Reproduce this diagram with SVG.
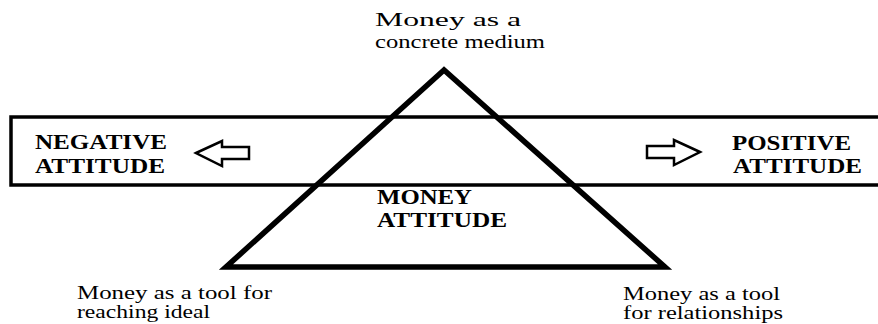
<svg xmlns="http://www.w3.org/2000/svg" width="878" height="324" viewBox="0 0 878 324">
<style>
.t{font-family:"Liberation Serif","Times New Roman",serif;font-size:18px;fill:#000}
.b{font-family:"Liberation Serif","Times New Roman",serif;font-size:20px;font-weight:bold;fill:#000}
.arr{fill:#fff;stroke:#000;stroke-width:2.5;stroke-linejoin:miter}
</style>
<rect width="878" height="324" fill="#fff"/>
<g id="band">
<rect x="11" y="117" width="880" height="68" fill="none" stroke="#000" stroke-width="3.5"/>
</g>
<g id="triangle">
<polygon points="444,70 226,267 665,267" fill="none" stroke="#000" stroke-width="5.5" stroke-linejoin="miter"/>
</g>
<g id="connectors">
<polygon class="arr" points="196,153 222,141 222,147 249,147 249,159 222,159 222,166"/>
<polygon class="arr" points="700,152 674,140 674,146 647,146 647,158 674,158 674,165"/>
</g>
<g id="top-label">
<text class="t" x="375" y="26" textLength="146" lengthAdjust="spacingAndGlyphs">Money as a</text>
<text class="t" x="375" y="48" textLength="170" lengthAdjust="spacingAndGlyphs">concrete medium</text>
</g>
<g id="negative">
<text class="b" x="35" y="149" textLength="132" lengthAdjust="spacingAndGlyphs">NEGATIVE</text>
<text class="b" x="35" y="173" textLength="130" lengthAdjust="spacingAndGlyphs">ATTITUDE</text>
</g>
<g id="positive">
<text class="b" x="732" y="150" textLength="119" lengthAdjust="spacingAndGlyphs">POSITIVE</text>
<text class="b" x="733" y="173" textLength="129" lengthAdjust="spacingAndGlyphs">ATTITUDE</text>
</g>
<g id="center">
<text class="b" x="377" y="204" textLength="95" lengthAdjust="spacingAndGlyphs">MONEY</text>
<text class="b" x="377" y="227" textLength="130" lengthAdjust="spacingAndGlyphs">ATTITUDE</text>
</g>
<g id="left-label">
<text class="t" x="77" y="299" textLength="195" lengthAdjust="spacingAndGlyphs">Money as a tool for</text>
<text class="t" x="77" y="318" textLength="133" lengthAdjust="spacingAndGlyphs">reaching ideal</text>
</g>
<g id="right-label">
<text class="t" x="623" y="300" textLength="157" lengthAdjust="spacingAndGlyphs">Money as a tool</text>
<text class="t" x="623" y="319" textLength="160" lengthAdjust="spacingAndGlyphs">for relationships</text>
</g>
</svg>
